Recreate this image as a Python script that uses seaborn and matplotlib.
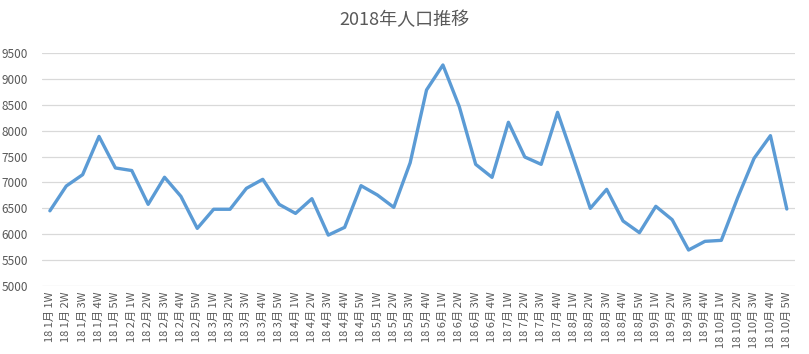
import matplotlib
matplotlib.use("Agg")
import matplotlib.pyplot as plt
import seaborn as sns
import pandas as pd

months = [1]*5 + [2]*5 + [3]*5 + [4]*5 + [5]*4 + [6]*4 + [7]*4 + [8]*5 + [9]*4 + [10]*5
weeks = [1,2,3,4,5, 1,2,3,4,5, 1,2,3,4,5, 1,2,3,4,5, 1,2,3,4, 1,2,3,4, 1,2,3,4, 1,2,3,4,5, 1,2,3,4, 1,2,3,4,5]
labels = [f"18 {m}月 {w}W" for m, w in zip(months, weeks)]
values = [6450, 6930, 7150, 7890, 7280, 7230, 6575, 7100, 6730, 6110,
          6480, 6480, 6885, 7060, 6575, 6400, 6685, 5980, 6130, 6937,
          6756, 6517, 7380, 8790, 9274, 8467, 7350, 7098, 8164, 7492,
          7350, 8357, 7434, 6498, 6866, 6253, 6027, 6537, 6278, 5691,
          5859, 5878, 6704, 7466, 7905, 6485]

df = pd.DataFrame({"x": range(len(values)), "label": labels, "value": values})

sns.set_theme(style="white")
plt.rcParams['font.family'] = ['Noto Sans CJK JP', 'DejaVu Sans']

fig = plt.figure(figsize=(8.09, 3.54), dpi=100)
ax = fig.add_axes([41.7/809, 1 - 285.7/354, (795 - 41.7)/809, (285.7 - 53.3)/354])

sns.lineplot(data=df, x="x", y="value", ax=ax, color="#5B9BD5", linewidth=2.4)

ax.set_xlim(-0.5, len(values) - 0.5)
ax.set_ylim(5000, 9500)
ax.set_yticks(range(5000, 9501, 500))
ax.set_xticks(range(len(values)))
ax.set_xticklabels(labels, rotation=90, fontsize=8, color="#595959")
ax.tick_params(axis='y', labelsize=8.5, labelcolor="#595959", length=0, pad=10)
ax.tick_params(axis='x', length=0, pad=4)
ax.grid(axis='y', color="#D9D9D9", linewidth=0.9)
ax.set_axisbelow(True)
for s in ax.spines.values():
    s.set_visible(False)
ax.set_xlabel("")
ax.set_ylabel("")

fig.text(0.5, 1 - 20/354, "2018年人口推移", ha="center", va="center",
         fontsize=13, color="#595959")

fig.savefig("out.png", dpi=100)
